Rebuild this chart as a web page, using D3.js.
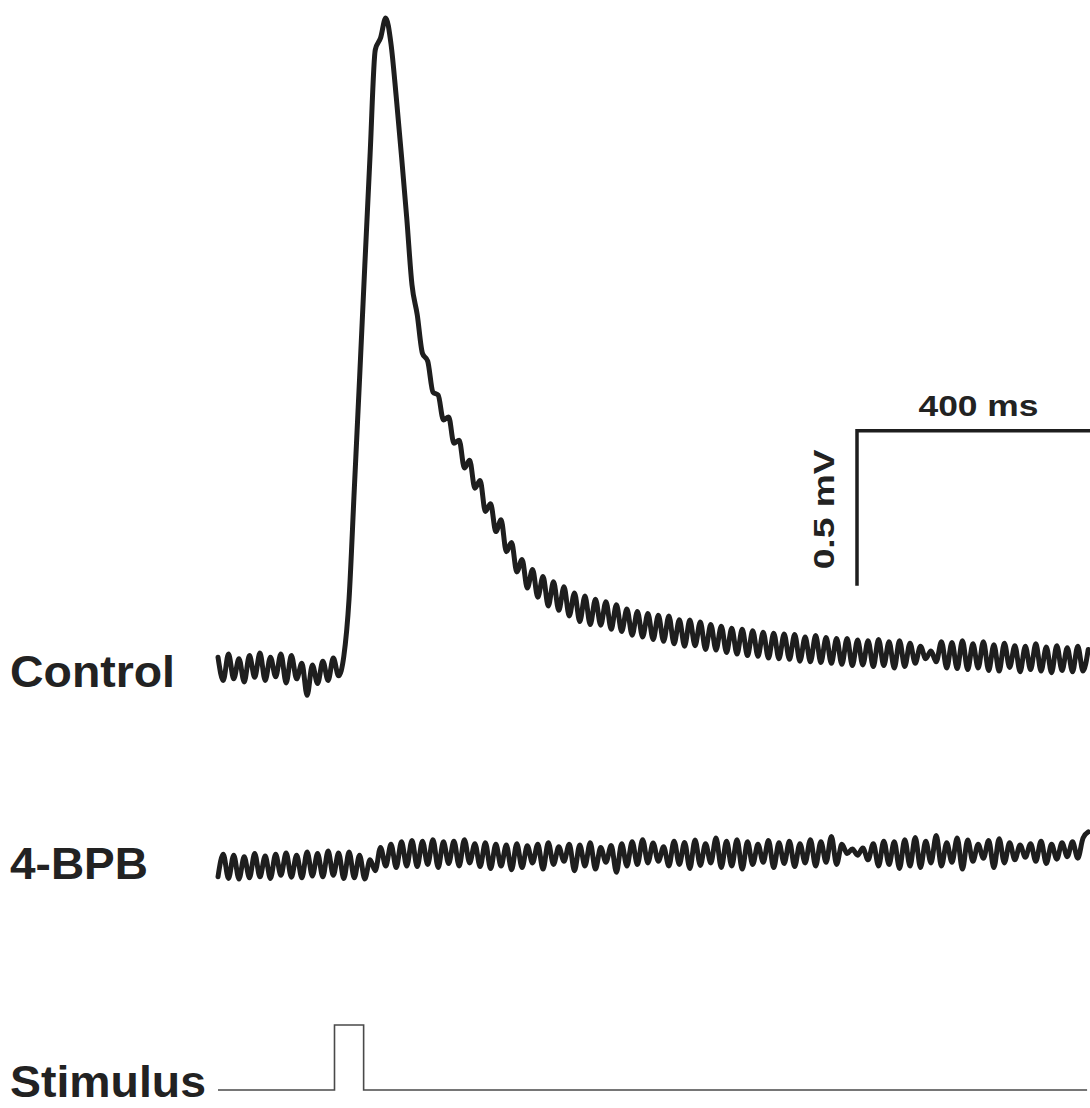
<!DOCTYPE html>
<html>
<head>
<meta charset="utf-8">
<script src="https://cdn.jsdelivr.net/npm/d3@7"></script>
<style>
  html, body { margin: 0; padding: 0; background: #ffffff; }
  svg { display: block; }
  text { font-family: "Liberation Sans", Arial, sans-serif; font-weight: bold; fill: #222; }
</style>
</head>
<body>
<svg id="chart" width="1090" height="1108"></svg>
<script>
// ---------------- data ----------------
// sampling interval of the recordings (ms)
const sampleMs = 9;

// Control trace, microvolts relative to pre-stimulus baseline
const controlValues = [
  35, -40, 45, -35, 30, -45, 40, -30, 48, -40,
  35, -28, 45, -48, 40, -35, 15, -88, 10, -50,
  22, -40, 32, -25, 38, 223, 577, 932, 1297, 1652,
  1994, 2032, 2097, 2013, 1842, 1652, 1452, 1236, 1140, 1015,
  990, 890, 880, 800, 810, 725, 735, 645, 670, 580,
  605, 505, 530, 440, 478, 375, 405, 310, 350, 258,
  318, 228, 295, 200, 278, 186, 262, 168, 242, 150,
  232, 140, 222, 138, 214, 125, 204, 118, 190, 106,
  182, 100, 176, 92, 170, 86, 168, 78, 156, 70,
  155, 72, 148, 60, 140, 58, 135, 50, 128, 45,
  125, 40, 120, 38, 115, 32, 112, 30, 110, 28,
  108, 22, 100, 20, 105, 18, 98, 15, 95, 12,
  95, 8, 90, 10, 88, 5, 92, 8, 85, 0,
  88, 5, 80, 15, 70, 30, 55, 20, 85, 0,
  82, -2, 88, -5, 78, 0, 85, -8, 75, -10,
  80, 2, 72, -12, 70, -5, 78, -10, 68, -15,
  72, -8, 65, -12, 70, -10, 60
];

// 4-BPB trace, microvolts relative to its own pre-stimulus baseline
const bpbValues = [
  -35, 38, -40, 35, -42, 30, -38, 40, -35, 32,
  -40, 38, -30, 42, -36, 35, -38, 45, -32, 40,
  -35, 48, -30, 42, -40, 45, -38, 35, -42, 20,
  -15, 60, 0, 70, -5, 78, 0, 82, -2, 80,
  5, 85, -5, 78, 8, 80, 0, 85, 10, 72,
  -2, 75, -8, 70, 0, 68, -12, 72, -5, 65,
  10, 70, -10, 75, 5, 62, 15, 70, -15, 68,
  0, 75, -10, 60, 12, 66, -20, 72, 0, 78,
  5, 85, 10, 74, 15, 62, 0, 80, 5, 76,
  -8, 84, 2, 72, 10, 90, -5, 80, 0, 85,
  -10, 78, 5, 70, 12, 82, -5, 75, 8, 80,
  -2, 72, 10, 85, 0, 78, 12, 95, 5, 70,
  40, 55, 35, 58, 20, 72, 0, 80, 5, 78,
  -8, 85, 0, 92, -5, 80, 10, 98, 0, 75,
  12, 90, -10, 84, 15, 70, 25, 82, -5, 88,
  10, 75, 20, 68, 28, 72, 15, 80, 8, 70,
  22, 75, 30, 78, 25, 90, 110
];

// Stimulus protocol (ms, relative level)
const stimTimes  = [0, 200, 200, 250, 250, 1492];
const stimLevels = [0, 0, 1, 1, 0, 0];

// Trace labels
const traceLabels = ["Control", "4-BPB", "Stimulus"];

// Scale bar sizes
const scaleBarMs = 400;
const scaleBarUv = 500;
const scaleBarLabels = ["400 ms", "0.5 mV"];

// ---------------- drawing ----------------
const svg = d3.select("#chart");

const x = d3.scaleLinear().domain([0, 1500]).range([218, 218 + 1500 * 0.5825]);
const pxPerUv = 155 / 500;
const yControl = d3.scaleLinear().domain([0, 500]).range([668, 668 - 500 * pxPerUv]);
const yBpb = d3.scaleLinear().domain([0, 500]).range([866, 866 - 500 * pxPerUv]);
const yStim = d3.scaleLinear().domain([0, 1]).range([1090, 1025]);

const toPoints = vals => vals.map((v, i) => ({ t: i * sampleMs, v }));

function drawTrace(vals, yScale) {
  const line = d3.line()
    .x(d => x(d.t))
    .y(d => yScale(d.v))
    .curve(d3.curveMonotoneX);
  svg.append("path")
    .datum(toPoints(vals))
    .attr("d", line)
    .attr("fill", "none")
    .attr("stroke", "#1e1e1e")
    .attr("stroke-width", 5)
    .attr("stroke-linejoin", "round")
    .attr("stroke-linecap", "round");
}

drawTrace(controlValues, yControl);
drawTrace(bpbValues, yBpb);

// stimulus
const stimLine = d3.line()
  .x((d, i) => x(stimTimes[i]))
  .y(d => yStim(d));
svg.append("path")
  .datum(stimLevels)
  .attr("d", stimLine)
  .attr("fill", "none")
  .attr("stroke", "#4a4a4a")
  .attr("stroke-width", 1.6);

// labels
const labelPos = [
  { y: 687, len: 165 },
  { y: 879, len: 138 },
  { y: 1097, len: 196 }
];
svg.selectAll("text.lbl")
  .data(traceLabels)
  .enter().append("text")
  .attr("class", "lbl")
  .attr("x", 10)
  .attr("y", (d, i) => labelPos[i].y)
  .attr("font-size", 44)
  .attr("textLength", (d, i) => labelPos[i].len)
  .attr("lengthAdjust", "spacingAndGlyphs")
  .text(d => d);

// scale bar (anchored on the control trace's scales)
const sbT0 = 1097;
const sbV0 = 265;
const sbX0 = x(sbT0), sbX1 = x(sbT0 + scaleBarMs);
const sbY0 = yControl(sbV0), sbY1 = yControl(sbV0 + scaleBarUv);
svg.append("path")
  .attr("d", `M${sbX0},${sbY0}L${sbX0},${sbY1}L${sbX1},${sbY1}`)
  .attr("fill", "none")
  .attr("stroke", "#1e1e1e")
  .attr("stroke-width", 3.5);

svg.append("text")
  .attr("x", (sbX0 + sbX1) / 2 + 5)
  .attr("y", sbY1 - 15)
  .attr("text-anchor", "middle")
  .attr("font-size", 30)
  .attr("textLength", 120)
  .attr("lengthAdjust", "spacingAndGlyphs")
  .text(scaleBarLabels[0]);

svg.append("text")
  .attr("transform", `translate(${sbX0 - 23},${(sbY0 + sbY1) / 2 + 1}) rotate(-90)`)
  .attr("text-anchor", "middle")
  .attr("font-size", 29)
  .attr("textLength", 120)
  .attr("lengthAdjust", "spacingAndGlyphs")
  .text(scaleBarLabels[1]);
</script>
</body>
</html>
